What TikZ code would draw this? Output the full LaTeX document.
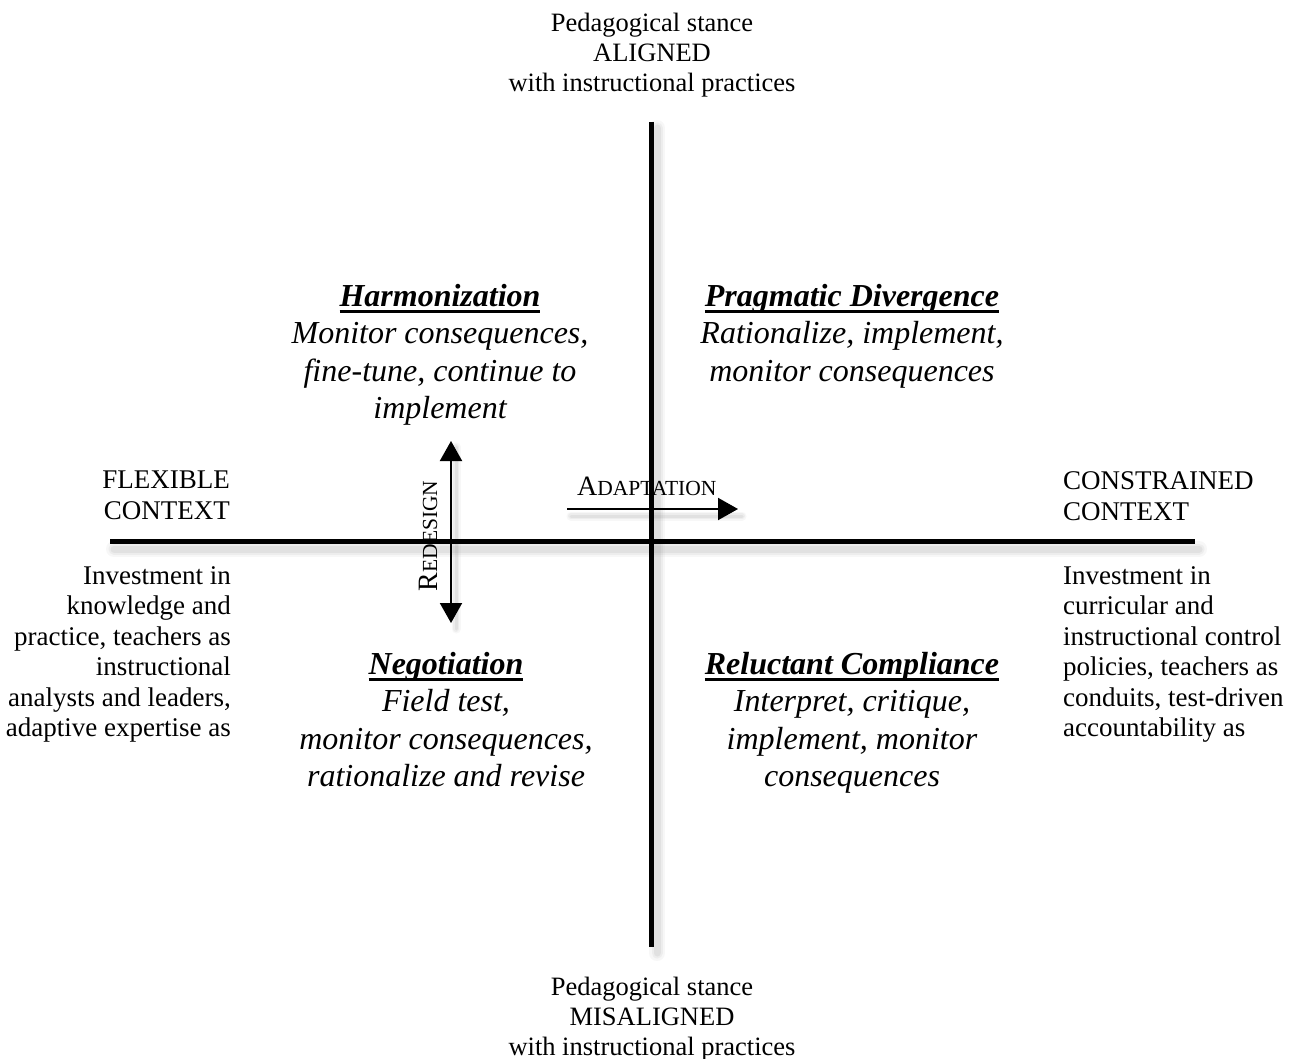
\documentclass[tikz,border=0pt]{standalone}
\usepackage{fontspec}
\setmainfont{Liberation Serif}
\usetikzlibrary{arrows.meta}
% heavy underline for the quadrant titles
\newcommand{\qtitle}[1]{\setbox0\hbox{\bfseries #1}\rlap{\rule[-6.5pt]{\wd0}{2.8pt}}\box0}
\begin{document}
\begin{tikzpicture}[x=1pt,y=-1pt,
  axis/.style={line width=5pt},
  shade/.style={gray, line cap=round},
  flow/.style={line width=2pt,-{Triangle[length=20pt,width=22pt]}},
  flowboth/.style={line width=2pt,{Triangle[length=20pt,width=22pt]}-{Triangle[length=20pt,width=22pt]}},
  label/.style={font=\fontsize{26.5}{30}\selectfont, align=center, inner sep=0pt},
  side/.style={font=\fontsize{27}{30.5}\selectfont, inner sep=0pt},
  quad/.style={font=\fontsize{32}{37.3}\selectfont\itshape, align=center, inner sep=0pt}]
\useasboundingbox (0,0) rectangle (1296,1059);
\fill[white] (0,0) rectangle (1296,1059);

% axis end points
\coordinate (L) at (110,541);
\coordinate (R) at (1195,541);
\coordinate (T) at (651,122);
\coordinate (B) at (651,947);
\coordinate (rd1) at (451,441);
\coordinate (rd2) at (451,623);
\coordinate (ad1) at (567,509);
\coordinate (ad2) at (738,509);

% soft shadows under the lines
\foreach \w/\o in {16/0.06,11/0.08,7/0.10}{
  \draw[shade, line width=\w pt, opacity=\o] ([shift={(4,8)}]L) -- ([shift={(4,8)}]R);
  \draw[shade, line width=\w pt, opacity=\o] ([shift={(6,6)}]T) -- ([shift={(6,6)}]B);
}
\foreach \w/\o in {9/0.06,6/0.08,3/0.10}{
  \draw[shade, line width=\w pt, opacity=\o] ([shift={(5,6)}]rd1) -- ([shift={(5,6)}]rd2);
  \draw[shade, line width=\w pt, opacity=\o] ([shift={(4,7)}]ad1) -- ([shift={(4,7)}]ad2);
}

% axes
\draw[axis] (L) -- (R);
\draw[axis] (T) -- (B);

% arrows
\draw[flowboth] (rd1) -- (rd2);
\draw[flow] (ad1) -- (ad2);

\node[rotate=90, inner sep=0pt] (redesign) at (428,536)
  {\fontsize{28}{30}\selectfont R\fontsize{21.5}{24}\selectfont EDESIGN};
\node[inner sep=0pt, anchor=base west] (adapt) at (577,495)
  {\fontsize{28}{30}\selectfont A\fontsize{21.5}{24}\selectfont DAPTATION};

% vertical axis ends
\node[label, anchor=north] (top) at (652,13)
  {Pedagogical stance\\ALIGNED\\with instructional practices};
\node[label, anchor=south] (bottom) at (652,1061)
  {Pedagogical stance\\MISALIGNED\\with instructional practices};

% horizontal axis ends
\node[side, align=right, anchor=north east, font=\fontsize{27}{31}\selectfont] (flex) at (230,471)
  {FLEXIBLE\\CONTEXT};
\node[side, align=left, anchor=north west, font=\fontsize{27}{31}\selectfont] (cons) at (1063,471)
  {CONSTRAINED\\CONTEXT};
\node[side, align=right, anchor=north east] (flexdesc) at (231,566)
  {Investment in\\knowledge and\\practice, teachers as\\instructional\\analysts and leaders,\\adaptive expertise as};
\node[side, align=left, anchor=north west] (consdesc) at (1063,566)
  {Investment in\\curricular and\\instructional control\\policies, teachers as\\conduits, test-driven\\accountability as};

% quadrants
\node[quad, anchor=north] (harm) at (440,284)
  {\qtitle{Harmonization}\\Monitor consequences,\\fine-tune, continue to\\implement};
\node[quad, anchor=north] (prag) at (852,284)
  {\qtitle{Pragmatic Divergence}\\Rationalize, implement,\\monitor consequences};
\node[quad, anchor=north] (nego) at (446,652)
  {\qtitle{Negotiation}\\Field test,\\monitor consequences,\\rationalize and revise};
\node[quad, anchor=north] (relu) at (852,652)
  {\qtitle{Reluctant Compliance}\\Interpret, critique,\\implement, monitor\\consequences};
\end{tikzpicture}
\end{document}
